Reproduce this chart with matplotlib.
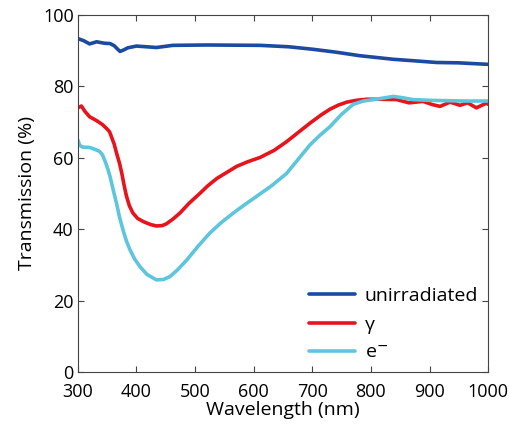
import numpy as np
import matplotlib.pyplot as plt

# wavelength (nm) and transmission (%)
wl_un = [300, 310, 320, 332, 345, 355, 362, 368, 372, 378, 385, 400, 434, 462, 520, 611, 660, 701, 740, 781, 838, 880, 912, 950, 997, 1000]
tr_un = [93.4, 92.8, 91.9, 92.5, 92.1, 92.0, 91.4, 90.4, 89.8, 90.2, 90.8, 91.3, 90.9, 91.5, 91.6, 91.5, 91.1, 90.4, 89.6, 88.6, 87.6, 87.1, 86.7, 86.6, 86.2, 86.2]

wl_g = [300, 306, 312, 320, 332, 342, 349, 354, 357, 362, 366, 371, 375, 379, 383, 388, 394, 402, 412, 424, 434, 444, 451, 462, 474, 490, 508, 522, 537, 555, 571, 590, 611, 635, 656, 676, 696, 715, 730, 745, 759, 775, 793, 820, 844, 865, 889, 905, 918, 935, 952, 965, 980, 997, 1000]
tr_g = [74.0, 74.5, 73.0, 71.5, 70.4, 69.3, 68.2, 67.3, 66.0, 63.8, 61.3, 58.5, 55.6, 52.2, 49.2, 46.5, 44.5, 43.0, 42.1, 41.3, 40.9, 41.0, 41.5, 42.8, 44.5, 47.3, 50.0, 52.2, 54.2, 56.0, 57.6, 58.9, 60.1, 62.1, 64.5, 67.1, 69.7, 72.0, 73.6, 74.8, 75.6, 76.1, 76.4, 76.4, 76.3, 75.4, 75.8, 74.9, 74.4, 75.6, 74.7, 75.4, 74.0, 75.3, 75.0]

wl_e = [300, 303, 308, 320, 330, 337, 342, 347, 351, 355, 360, 366, 371, 377, 383, 389, 397, 406, 418, 434, 446, 457, 470, 486, 505, 525, 545, 565, 585, 605, 630, 656, 676, 696, 713, 730, 750, 770, 787, 804, 820, 838, 855, 872, 900, 929, 960, 997, 1000]
tr_e = [65.0, 63.5, 63.0, 62.9, 62.3, 61.8, 60.8, 58.8, 56.9, 54.7, 51.2, 47.2, 43.4, 39.8, 36.6, 34.2, 31.6, 29.5, 27.3, 25.8, 25.9, 26.7, 28.6, 31.4, 35.2, 38.9, 41.9, 44.5, 46.9, 49.2, 52.1, 55.6, 59.6, 63.6, 66.3, 68.7, 72.2, 75.0, 75.9, 76.3, 76.7, 77.2, 76.8, 76.3, 76.1, 76.0, 75.9, 75.9, 75.9]

plt.rcParams['font.family'] = ['Open Sans', 'DejaVu Sans']
fig, ax = plt.subplots(figsize=(5.09, 4.29), dpi=100)
fig.subplots_adjust(left=0.153, right=0.959, top=0.965, bottom=0.133)

line_kw = dict(lw=2.6, solid_joinstyle='round', solid_capstyle='round')
ax.plot(wl_un, tr_un, color='#1c4aa3', label='unirradiated', **line_kw)
ax.plot(wl_g, tr_g, color='#e8141c', label='\u03b3', **line_kw)
ax.plot(wl_e, tr_e, color='#5ec6dc', label='e$^{-}$', **line_kw)

ax.set_xlim(300, 1000)
ax.set_ylim(0, 100)
ax.set_xticks(np.arange(300, 1001, 100))
ax.set_yticks(np.arange(0, 101, 20))
ax.tick_params(direction='in', top=True, right=True, labelsize=13, length=4,
               color='#444444')
ax.tick_params(axis='x', pad=8)
ax.tick_params(axis='y', pad=3)
for s in ax.spines.values():
    s.set_color('#444444')
    s.set_linewidth(0.8)
ax.set_xlabel('Wavelength (nm)', fontsize=14, labelpad=0)
ax.set_ylabel('Transmission (%)', fontsize=14, labelpad=5)
ax.legend(loc='lower right', frameon=False, fontsize=14, handlelength=2.4,
          handletextpad=0.5, borderaxespad=0.1, labelspacing=0.55)

fig.savefig('out.png', dpi=100)
